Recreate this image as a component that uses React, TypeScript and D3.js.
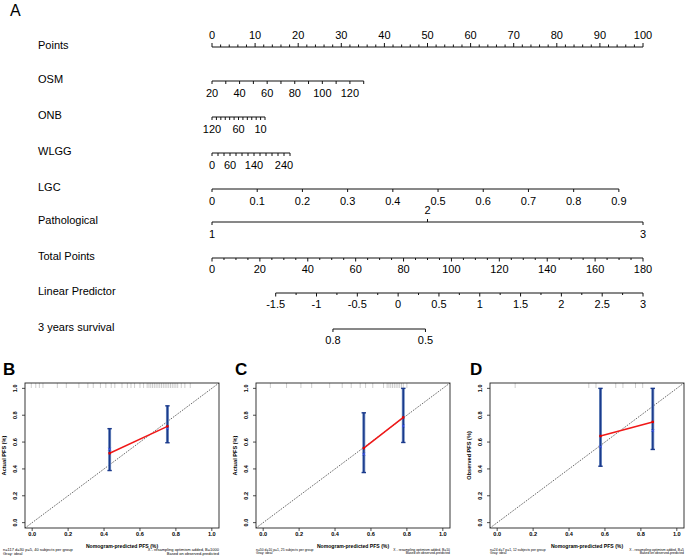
import React from 'react';
import * as d3 from 'd3';

const FONT = "'Liberation Sans', Arial, Helvetica, sans-serif";

// ---------------- Nomogram data ----------------
const pointsLabels = [0, 10, 20, 30, 40, 50, 60, 70, 80, 90, 100];
const pointsMinorStep = 2;

const osmDomain = [20, 130];
const osmPoints = [0, 35.2];
const osmLabels = [20, 40, 60, 80, 100, 120];
const osmStep = 10;

const onbDomain = [120, 0];
const onbPoints = [0, 12.3];
const onbLabels = [120, 60, 10];
const onbStep = 10;

const wlggDomain = [0, 260];
const wlggPoints = [0, 18.1];
const wlggLabels = [0, 60, 140, 240];
const wlggStep = 20;

const lgcDomain = [0, 0.9];
const lgcPoints = [0, 94.4];
const lgcLabels = [0, 0.1, 0.2, 0.3, 0.4, 0.5, 0.6, 0.7, 0.8, 0.9];
const lgcStep = 0.1;

const pathLevels = [1, 2, 3];
const pathPoints = [0, 50, 100];

const totalLabels = [0, 20, 40, 60, 80, 100, 120, 140, 160, 180];
const totalMinorStep = 5;

const lpLabels = [-1.5, -1, -0.5, 0, 0.5, 1, 1.5, 2, 2.5, 3];
const lpMinorStep = 0.25;
const lpDomain = [-1.5, 3];
const lpTotalAt = [26.6, 180];

const survLabels = [0.8, 0.5];
const baselineSurvival = 0.609;

const rowNames = ['Points', 'OSM', 'ONB', 'WLGG', 'LGC', 'Pathological', 'Total Points', 'Linear Predictor', '3 years survival'];

// ---------------- Calibration data ----------------
const panelLetters = ['B', 'C', 'D'];
const yTitles = ['Actual PFS (%)', 'Actual PFS (%)', 'Observed PFS (%)'];
const leftNotes = ['n=117 d=30 p=5, 40 subjects per group', 'n=50 d=10 p=1, 25 subjects per group', 'n=24 d=7 p=1, 12 subjects per group'];
const rightNotes = ['X - resampling optimism added, B=1000', 'X - resampling optimism added, B=10', 'X - resampling optimism added, B=5'];
const axisTicks = [0, 0.2, 0.4, 0.6, 0.8, 1.0];

const bPred = [0.431, 0.753];
const bRed = [0.517, 0.717];
const bBlue = [0.547, 0.70];
const bLow = [0.388, 0.595];
const bHigh = [0.70, 0.87];
const bRug = [-0.005, 0.02, 0.04, 0.06, 0.14, 0.19, 0.26, 0.31, 0.34, 0.38, 0.41, 0.44, 0.46, 0.5, 0.53, 0.55, 0.57, 0.6, 0.62, 0.64, 0.65, 0.66, 0.67, 0.68, 0.69, 0.7, 0.71, 0.72, 0.73, 0.74, 0.75, 0.76, 0.77, 0.78, 0.79, 0.8, 0.81, 0.83, 0.85, 0.88];

const cPred = [0.56, 0.78];
const cRed = [0.555, 0.784];
const cBlue = [0.51, 0.72];
const cLow = [0.373, 0.597];
const cHigh = [0.818, 1.0];
const cRug = [0.04, 0.13, 0.21, 0.27, 0.37, 0.44, 0.49, 0.54, 0.57, 0.61, 0.67, 0.69, 0.7, 0.71, 0.72, 0.73, 0.74, 0.75, 0.76, 0.77, 0.78, 0.8];

const dPred = [0.575, 0.866];
const dRed = [0.645, 0.75];
const dBlue = [0.565, 0.685];
const dLow = [0.42, 0.545];
const dHigh = [1.0, 1.0];
const dRug = [0.1, 0.51, 0.55, 0.66, 0.7, 0.77, 0.81];

// ---------------- Layout ----------------
const NOM_X0 = 212;
const NOM_X1 = 643;
const LABEL_X = 38;
const rowY = [47, 81, 117, 153, 189, 222, 258, 293, 329];

const panelBoxes = [
  { x0: 25, x1: 219, y0: 383, y1: 528 },
  { x0: 256, x1: 450, y0: 383, y1: 528 },
  { x0: 490, x1: 684, y0: 383, y1: 528 },
];
const letterX = [3, 235, 470];
const noteLeftX = [3, 256, 490];
const noteFont = [4.0, 3.4, 3.4];

const fmt = (v: number) => {
  const r = Math.round(v * 100) / 100;
  return String(r);
};

function rangeTicks(a: number, b: number, step: number) {
  const lo = Math.min(a, b), hi = Math.max(a, b);
  const n = Math.round((hi - lo) / step);
  return d3.range(0, n + 1).map(i => lo + i * step);
}

const xPts = d3.scaleLinear().domain([0, 100]).range([NOM_X0, NOM_X1]);
const xTot = d3.scaleLinear().domain([0, 180]).range([NOM_X0, NOM_X1]);
const lpToTotal = d3.scaleLinear().domain(lpDomain).range(lpTotalAt);

const STROKE = '#111';
const NOM_FS = 11;

function VarAxis({ y, domain, pts, step, labels }: { y: number; domain: number[]; pts: number[]; step: number; labels: number[] }) {
  const toPts = d3.scaleLinear().domain(domain).range(pts);
  const x = (v: number) => xPts(toPts(v));
  const ticks = rangeTicks(domain[0], domain[1], step);
  return (
    <g>
      <line x1={x(domain[0])} x2={x(domain[1])} y1={y} y2={y} stroke={STROKE} strokeWidth={1} />
      {ticks.map((t, i) => (
        <line key={i} x1={x(t)} x2={x(t)} y1={y} y2={y + 3} stroke={STROKE} strokeWidth={1} />
      ))}
      {labels.map((t, i) => (
        <text key={i} x={x(t)} y={y + 13} textAnchor="middle" dominantBaseline="middle" fontSize={NOM_FS} fontFamily={FONT}>{fmt(t)}</text>
      ))}
    </g>
  );
}

function Nomogram() {
  const ptsMinor = rangeTicks(0, 100, pointsMinorStep);
  const totMinor = rangeTicks(0, 180, totalMinorStep);
  const lpMinor = rangeTicks(lpDomain[0], lpDomain[1], lpMinorStep);
  const xLp = (v: number) => xTot(lpToTotal(v));
  const survToLp = (s: number) => Math.log(Math.log(s) / Math.log(baselineSurvival));
  const pathX = (i: number) => xPts(pathPoints[i]);
  return (
    <g>
      <text x={10} y={16} fontSize={16} fontFamily={FONT}>A</text>
      {rowNames.map((n, i) => (
        <text key={n} x={LABEL_X} y={rowY[i] - 1} dominantBaseline="middle" fontSize={NOM_FS} fontFamily={FONT}>{n}</text>
      ))}
      {/* Points */}
      <g>
        <line x1={xPts(0)} x2={xPts(100)} y1={rowY[0]} y2={rowY[0]} stroke={STROKE} />
        {ptsMinor.map((t, i) => {
          const major = pointsLabels.includes(t);
          return <line key={i} x1={xPts(t)} x2={xPts(t)} y1={rowY[0]} y2={rowY[0] - (major ? 4 : 2.5)} stroke={STROKE} />;
        })}
        {pointsLabels.map((t, i) => (
          <text key={i} x={xPts(t)} y={rowY[0] - 11} textAnchor="middle" dominantBaseline="middle" fontSize={NOM_FS} fontFamily={FONT}>{t}</text>
        ))}
      </g>
      <VarAxis y={rowY[1]} domain={osmDomain} pts={osmPoints} step={osmStep} labels={osmLabels} />
      <VarAxis y={rowY[2]} domain={onbDomain} pts={onbPoints} step={onbStep} labels={onbLabels} />
      <VarAxis y={rowY[3]} domain={wlggDomain} pts={wlggPoints} step={wlggStep} labels={wlggLabels} />
      <VarAxis y={rowY[4]} domain={lgcDomain} pts={lgcPoints} step={lgcStep} labels={lgcLabels} />
      {/* Pathological */}
      <g>
        <line x1={pathX(0)} x2={pathX(2)} y1={rowY[5]} y2={rowY[5]} stroke={STROKE} />
        {pathLevels.map((lv, i) => {
          const up = i === 1;
          return (
            <g key={lv}>
              <line x1={pathX(i)} x2={pathX(i)} y1={rowY[5]} y2={rowY[5] + (up ? -3 : 3)} stroke={STROKE} />
              <text x={pathX(i)} y={up ? rowY[5] - 11 : rowY[5] + 13} textAnchor="middle" dominantBaseline="middle" fontSize={NOM_FS} fontFamily={FONT}>{lv}</text>
            </g>
          );
        })}
      </g>
      {/* Total points */}
      <g>
        <line x1={xTot(0)} x2={xTot(180)} y1={rowY[6]} y2={rowY[6]} stroke={STROKE} />
        {totMinor.map((t, i) => {
          const major = totalLabels.includes(t);
          return <line key={i} x1={xTot(t)} x2={xTot(t)} y1={rowY[6]} y2={rowY[6] + (major ? 3.5 : 2)} stroke={STROKE} />;
        })}
        {totalLabels.map((t, i) => (
          <text key={i} x={xTot(t)} y={rowY[6] + 12} textAnchor="middle" dominantBaseline="middle" fontSize={NOM_FS} fontFamily={FONT}>{t}</text>
        ))}
      </g>
      {/* Linear predictor */}
      <g>
        <line x1={xLp(lpDomain[0])} x2={xLp(lpDomain[1])} y1={rowY[7]} y2={rowY[7]} stroke={STROKE} />
        {lpMinor.map((t, i) => {
          const major = lpLabels.some(l => Math.abs(l - t) < 1e-9);
          return <line key={i} x1={xLp(t)} x2={xLp(t)} y1={rowY[7]} y2={rowY[7] + (major ? 3.5 : 2)} stroke={STROKE} />;
        })}
        {lpLabels.map((t, i) => (
          <text key={i} x={xLp(t)} y={rowY[7] + 12} textAnchor="middle" dominantBaseline="middle" fontSize={NOM_FS} fontFamily={FONT}>{t}</text>
        ))}
      </g>
      {/* Survival */}
      <g>
        <line x1={xLp(survToLp(survLabels[0]))} x2={xLp(survToLp(survLabels[survLabels.length - 1]))} y1={rowY[8]} y2={rowY[8]} stroke={STROKE} />
        {survLabels.map((s, i) => (
          <g key={i}>
            <line x1={xLp(survToLp(s))} x2={xLp(survToLp(s))} y1={rowY[8]} y2={rowY[8] + 3} stroke={STROKE} />
            <text x={xLp(survToLp(s))} y={rowY[8] + 12} textAnchor="middle" dominantBaseline="middle" fontSize={NOM_FS} fontFamily={FONT}>{s}</text>
          </g>
        ))}
      </g>
    </g>
  );
}

type PanelData = { pred: number[]; red: number[]; blue: number[]; low: number[]; high: number[]; rug: number[] };

function Calib({ idx, data }: { idx: number; data: PanelData }) {
  const b = panelBoxes[idx];
  const x = d3.scaleLinear().domain([-0.04, 1.04]).range([b.x0, b.x1]);
  const y = d3.scaleLinear().domain([-0.04, 1.04]).range([b.y1, b.y0]);
  const clipId = `clip${idx}`;
  const tickFs = 5.6;
  const nf = noteFont[idx];
  const redLine = d3.line<number>().x((_, i) => x(data.pred[i])).y(v => y(v));
  return (
    <g>
      <defs>
        <clipPath id={clipId}><rect x={b.x0} y={b.y0} width={b.x1 - b.x0} height={b.y1 - b.y0} /></clipPath>
      </defs>
      <text x={letterX[idx]} y={375} fontSize={17} fontWeight="bold" fontFamily={FONT}>{panelLetters[idx]}</text>
      {/* rug */}
      {data.rug.map((r, i) => (
        <line key={i} x1={x(r)} x2={x(r)} y1={b.y0} y2={b.y0 + 5} stroke="#b8b8b8" strokeWidth={0.7} />
      ))}
      {/* ideal diagonal */}
      <line x1={x(-0.04)} y1={y(-0.04)} x2={x(1.04)} y2={y(1.04)} stroke="#444" strokeWidth={0.8} strokeDasharray="1.6,1.2" clipPath={`url(#${clipId})`} />
      {/* error bars */}
      {data.pred.map((p, i) => (
        <g key={i}>
          <line x1={x(p)} x2={x(p)} y1={y(data.low[i])} y2={y(data.high[i])} stroke="#6f8dc0" strokeWidth={3} />
          <line x1={x(p)} x2={x(p)} y1={y(data.low[i])} y2={y(data.high[i])} stroke="#1b3a8c" strokeWidth={1.4} />
          <line x1={x(p) - 2.2} x2={x(p) + 2.2} y1={y(data.low[i])} y2={y(data.low[i])} stroke="#1b3a8c" strokeWidth={1.4} />
          <line x1={x(p) - 2.2} x2={x(p) + 2.2} y1={y(data.high[i])} y2={y(data.high[i])} stroke="#1b3a8c" strokeWidth={1.4} />
        </g>
      ))}
      {/* red apparent line */}
      <path d={redLine(data.red) || ''} fill="none" stroke="#f01818" strokeWidth={1.5} />
      {data.red.map((v, i) => (
        <rect key={i} x={x(data.pred[i]) - 1.2} y={y(v) - 1.2} width={2.4} height={2.4} fill="#e00000" />
      ))}
      {data.blue.map((v, i) => (
        <g key={i} stroke="#3a4ff0" strokeWidth={0.9}>
          <line x1={x(data.pred[i]) - 1.3} x2={x(data.pred[i]) + 1.3} y1={y(v) - 1.3} y2={y(v) + 1.3} />
          <line x1={x(data.pred[i]) - 1.3} x2={x(data.pred[i]) + 1.3} y1={y(v) + 1.3} y2={y(v) - 1.3} />
        </g>
      ))}
      {/* box */}
      <rect x={b.x0} y={b.y0} width={b.x1 - b.x0} height={b.y1 - b.y0} fill="none" stroke="#222" strokeWidth={0.9} />
      {/* x axis */}
      {axisTicks.map((t, i) => (
        <g key={i}>
          <line x1={x(t)} x2={x(t)} y1={b.y1} y2={b.y1 + 3} stroke="#222" strokeWidth={0.8} />
          <text x={x(t)} y={b.y1 + 7} textAnchor="middle" dominantBaseline="middle" fontSize={tickFs} fontWeight="bold" fontFamily={FONT}>{t.toFixed(1)}</text>
        </g>
      ))}
      {/* y axis */}
      {axisTicks.map((t, i) => (
        <g key={i}>
          <line x1={b.x0} x2={b.x0 - 3} y1={y(t)} y2={y(t)} stroke="#222" strokeWidth={0.8} />
          <text transform={`translate(${b.x0 - 9},${y(t)}) rotate(-90)`} textAnchor="middle" dominantBaseline="middle" fontSize={tickFs} fontWeight="bold" fontFamily={FONT}>{t.toFixed(1)}</text>
        </g>
      ))}
      <text x={(b.x0 + b.x1) / 2} y={b.y1 + 19} textAnchor="middle" dominantBaseline="middle" fontSize={5.1} fontWeight="bold" fontFamily={FONT}>Nomogram-predicted PFS (%)</text>
      <text transform={`translate(${b.x0 - 20},${(b.y0 + b.y1) / 2}) rotate(-90)`} textAnchor="middle" dominantBaseline="middle" fontSize={5.6} fontWeight="bold" fontFamily={FONT}>{yTitles[idx]}</text>
      <text x={noteLeftX[idx]} y={b.y1 + 22.5} fontSize={nf} fontFamily={FONT}>{leftNotes[idx]}</text>
      <text x={noteLeftX[idx]} y={b.y1 + 22.5 + nf} fontSize={nf} fontFamily={FONT}>Gray: ideal</text>
      <text x={b.x1} y={b.y1 + 22.5} textAnchor="end" fontSize={nf} fontFamily={FONT}>{rightNotes[idx]}</text>
      <text x={b.x1} y={b.y1 + 22.5 + nf} textAnchor="end" fontSize={nf} fontFamily={FONT}>Based on observed-predicted</text>
    </g>
  );
}

export default function App() {
  const panels: PanelData[] = [
    { pred: bPred, red: bRed, blue: bBlue, low: bLow, high: bHigh, rug: bRug },
    { pred: cPred, red: cRed, blue: cBlue, low: cLow, high: cHigh, rug: cRug },
    { pred: dPred, red: dRed, blue: dBlue, low: dLow, high: dHigh, rug: dRug },
  ];
  return (
    <div style={{ position: 'absolute', left: 0, top: 0 }}>
      <svg width={685} height={557} style={{ display: 'block', background: '#fff' }}>
        <rect width={685} height={557} fill="#fff" />
        <Nomogram />
        {panels.map((p, i) => <Calib key={i} idx={i} data={p} />)}
      </svg>
    </div>
  );
}
